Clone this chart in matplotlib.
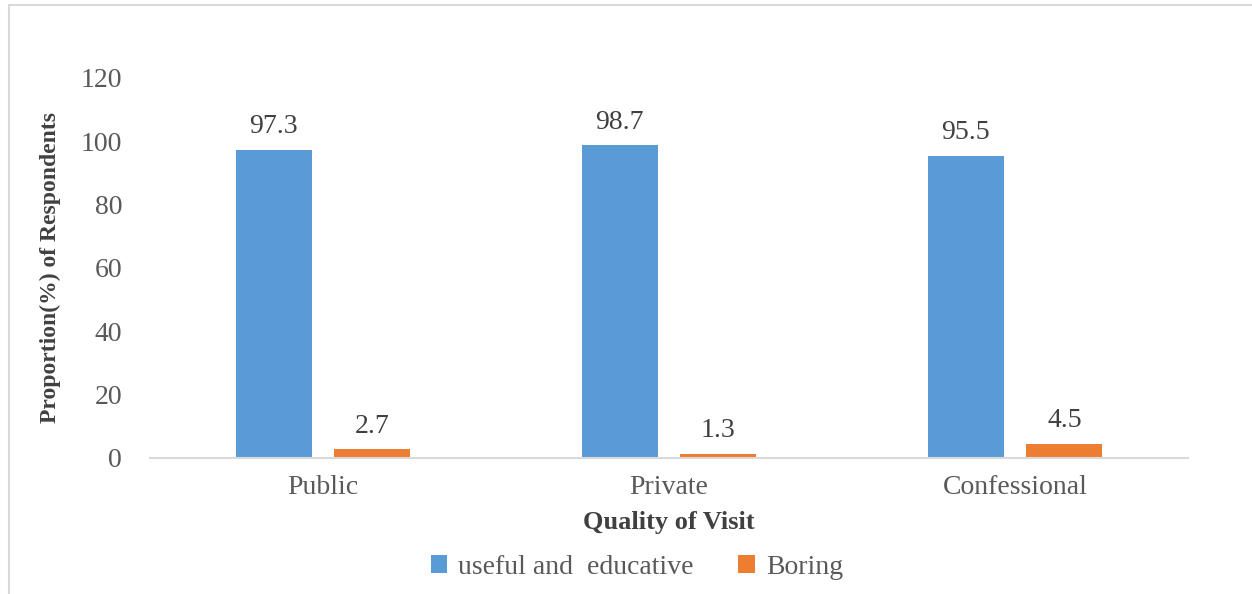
import matplotlib
matplotlib.use("Agg")
import matplotlib.pyplot as plt
import numpy as np
from matplotlib.lines import Line2D

categories = ["Public", "Private", "Confessional"]
useful = [97.3, 98.7, 95.5]
boring = [2.7, 1.3, 4.5]
series_names = ["useful and  educative", "Boring"]
yticks = [0, 20, 40, 60, 80, 100, 120]

plt.rcParams['font.family'] = ['Liberation Serif', 'DejaVu Serif']

fig = plt.figure(figsize=(12.52, 5.94), dpi=100)
ax = fig.add_axes([0.1198, 0.229, 0.949 - 0.1198, 0.8687 - 0.229])

x = np.arange(len(categories))
w = 0.22
off = 0.1425
b1 = ax.bar(x - off, useful, w, color="#5B9BD5", label=series_names[0])
b2 = ax.bar(x + off, boring, w, color="#ED7D31", label=series_names[1])

for bars, vals in ((b1, useful), (b2, boring)):
    for r, v in zip(bars, vals):
        ax.text(r.get_x() + r.get_width() / 2, v + 3.3, f"{v}", ha="center", va="bottom",
                fontsize=20, color="#404040")

ax.set_xlim(-0.5, 2.5)
ax.set_ylim(0, 120)
ax.set_yticks(yticks)
ax.set_xticks(x)
ax.set_xticklabels(categories)
ax.tick_params(axis="both", length=0, labelsize=20, colors="#595959")
ax.tick_params(axis="y", pad=20)
ax.tick_params(axis="x", pad=12)
for s in ("top", "right", "left"):
    ax.spines[s].set_visible(False)
ax.spines["bottom"].set_color("#D9D9D9")
ax.spines["bottom"].set_linewidth(1.5)

ax.set_xlabel("Quality of Visit", fontsize=19, fontweight="bold", color="#404040", labelpad=8)
ax.set_ylabel("Proportion(%) of Respondents", fontsize=17, fontweight="bold", color="#404040", labelpad=14)

leg = fig.legend(handles=[b1, b2], labels=series_names, loc="center", bbox_to_anchor=(637 / 1252, 1 - 567 / 594),
                 ncol=2, frameon=False, fontsize=20, handlelength=0.6, handleheight=0.6,
                 handletextpad=0.4, columnspacing=1.6, labelcolor="#595959")

# outer frame lines (top and left)
fig.add_artist(Line2D([9 / 1252, 9 / 1252], [0, 1 - 5 / 594], transform=fig.transFigure, color="#D9D9D9", lw=1.5))
fig.add_artist(Line2D([9 / 1252, 1], [1 - 5 / 594, 1 - 5 / 594], transform=fig.transFigure, color="#D9D9D9", lw=1.5))

fig.savefig("out.png", dpi=100)
